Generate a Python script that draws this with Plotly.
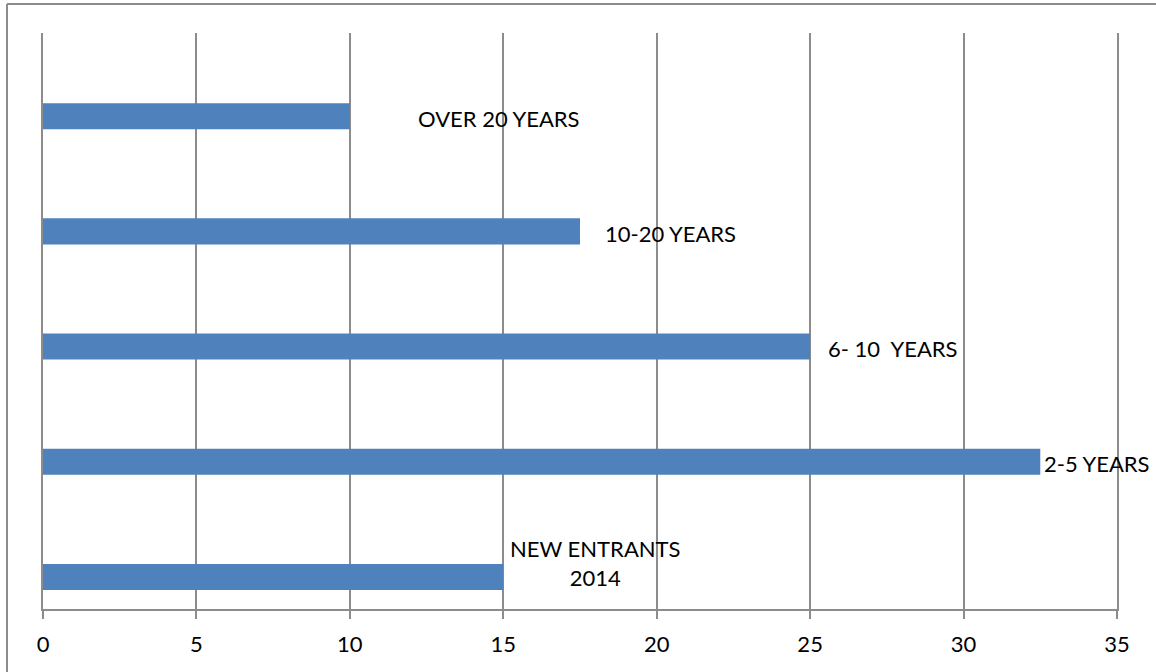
import plotly.graph_objects as go

# ---- data ----
categories = ["NEW ENTRANTS<br>2014", "2-5 YEARS", "6- 10  YEARS", "10-20 YEARS", "OVER 20 YEARS"]
values = [15, 32.5, 25, 17.5, 10]
x_ticks = [0, 5, 10, 15, 20, 25, 30, 35]

# ---- label placement (data units along x) ----
label_x = [18.0, 34.35, 27.7, 20.45, 14.85]

W, H = 1156, 672
ML, MR, MT, MB = 43, 39, 33, 63
GRID = "#8c8c8c"
BAR = "#4f81bd"
FONT = "Lato"

idx = list(range(len(categories)))

fig = go.Figure()
fig.add_trace(go.Bar(
    y=idx, x=values, orientation="h",
    width=0.226, offset=-0.335,
    marker=dict(color=BAR, line=dict(width=0)),
    hoverinfo="skip",
))

annotations = []
for i, (lab, lx) in enumerate(zip(categories, label_x)):
    yshift = -2
    if i == 0:
        yshift = 14
    annotations.append(dict(
        x=lx, y=i - 0.222, xref="x", yref="y", text=lab, showarrow=False,
        xanchor="center", yanchor="middle", yshift=yshift,
        font=dict(family=FONT, size=22, color="black"), align="center",
    ))

pw = W - ML - MR
ph = H - MT - MB
def px_x(p):
    return (p - ML) / pw
def px_y(p):
    return 1 - (p - MT) / ph

shapes = [
    dict(type="line", xref="paper", yref="paper", x0=px_x(7), x1=px_x(1160),
         y0=px_y(4), y1=px_y(4), line=dict(color=GRID, width=2)),
    dict(type="line", xref="paper", yref="paper", x0=px_x(7), x1=px_x(7),
         y0=px_y(4), y1=px_y(680), line=dict(color=GRID, width=2)),
]

fig.update_layout(
    width=W, height=H,
    margin=dict(l=ML, r=MR, t=MT, b=MB, pad=0),
    paper_bgcolor="white", plot_bgcolor="white",
    showlegend=False,
    annotations=annotations,
    shapes=shapes,
    font=dict(family=FONT, size=22, color="black"),
    xaxis=dict(
        range=[0, 35], tickvals=x_ticks, ticktext=[str(t) for t in x_ticks],
        showgrid=True, gridcolor=GRID, gridwidth=2,
        zeroline=False, showline=True, linecolor=GRID, linewidth=2,
        ticks="outside", ticklen=8, tickwidth=2, tickcolor=GRID,
        ticklabelstandoff=7,
        tickfont=dict(family=FONT, size=22, color="black"),
        fixedrange=True,
    ),
    yaxis=dict(
        range=[-0.5, 4.5], showticklabels=False, showgrid=False, zeroline=False,
        showline=True, mirror=True, linecolor=GRID, linewidth=2, ticks="",
        fixedrange=True,
    ),
)

fig.write_html("out.html")
